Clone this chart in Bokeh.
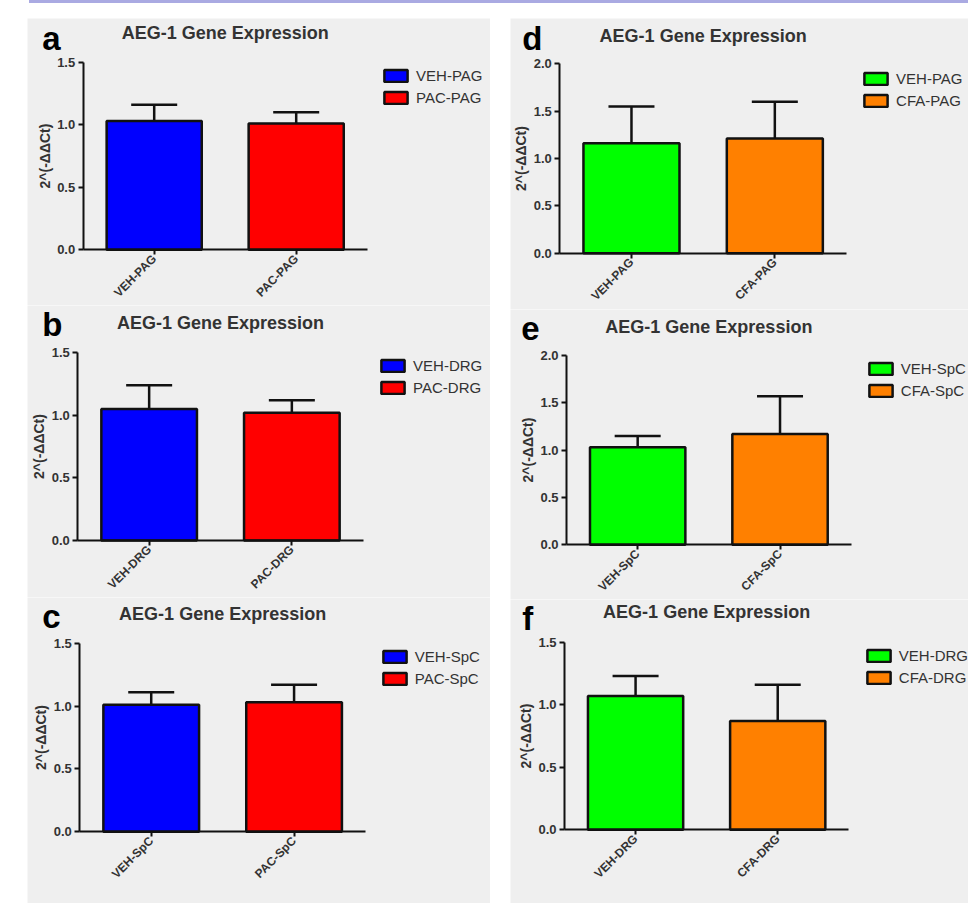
import numpy as np
from bokeh.plotting import figure
from bokeh.models import (ColumnDataSource, Range1d, FixedTicker, Div,
                          NumeralTickFormatter, Whisker, TeeHead, Legend, LegendItem, Label)
from bokeh.layouts import row, column
from bokeh.embed import file_html
from bokeh.resources import INLINE

# ---------------- data ----------------
title_text = "AEG-1 Gene Expression"
y_label = "2^(-ΔΔCt)"

cats_a = ["VEH-PAG", "PAC-PAG"]
mean_a = [1.03, 1.01]
sem_a = [0.13, 0.09]

cats_b = ["VEH-DRG", "PAC-DRG"]
mean_b = [1.05, 1.02]
sem_b = [0.19, 0.10]

cats_c = ["VEH-SpC", "PAC-SpC"]
mean_c = [1.01, 1.03]
sem_c = [0.10, 0.14]

cats_d = ["VEH-PAG", "CFA-PAG"]
mean_d = [1.16, 1.21]
sem_d = [0.39, 0.39]

cats_e = ["VEH-SpC", "CFA-SpC"]
mean_e = [1.03, 1.17]
sem_e = [0.12, 0.40]

cats_f = ["VEH-DRG", "CFA-DRG"]
mean_f = [1.07, 0.87]
sem_f = [0.16, 0.29]

ticks_15 = [0.0, 0.5, 1.0, 1.5]
ticks_20 = [0.0, 0.5, 1.0, 1.5, 2.0]

colors_pac = ["#0000FF", "#FF0000"]
colors_cfa = ["#00FF00", "#FF8000"]

# ---------------- styling / layout (page pixels) ----------------
FONT = "Liberation Sans"
BG = "#efefef"
TXT = "#333333"
INK = "#111111"
BAND = "#aaaae2"
LETTER_SIZE = 33

# x0,y0,w,h: figure box; L,R,T,B: plot area edges; leg: legend box left / first row centre;
# let: panel letter left / baseline; ttl: title centre y
PANELS = {
    "a": dict(x0=27, y0=18, w=463, h=287, L=82.7, R=366.7, T=61.7, B=249.3,
              leg=(384, 74.5), let=(41.7, 50), ttl=32),
    "b": dict(x0=27, y0=305, w=463, h=292, L=77.3, R=362.7, T=352.3, B=540,
              leg=(381, 364.8), let=(41.7, 336), ttl=322.7),
    "c": dict(x0=27, y0=597, w=463, h=306, L=79.3, R=365, T=642.7, B=831.3,
              leg=(382.7, 655.7), let=(41.7, 627.5), ttl=613.3),
    "d": dict(x0=510, y0=18, w=458, h=291, L=559.3, R=846, T=63.3, B=252.7,
              leg=(864, 77), let=(521.7, 50), ttl=35),
    "e": dict(x0=510, y0=309, w=458, h=290, L=566, R=850.7, T=355, B=544.3,
              leg=(868.7, 367.8), let=(520.7, 339.5), ttl=326),
    "f": dict(x0=510, y0=599, w=458, h=304, L=564, R=848.3, T=641.7, B=829.3,
              leg=(866.7, 654.8), let=(521.7, 629.5), ttl=611.7),
}

GLYPH_W, GLYPH_H = 29, 15
LABEL_H, LEG_SPACING = 17, 5


def make_panel(letter, cats, means, sems, colors, ymax, ticks):
    g = PANELS[letter]
    w, h = g["w"], g["h"]
    L, R = g["L"] - g["x0"], g["R"] - g["x0"]
    T, B = g["T"] - g["y0"], g["B"] - g["y0"]
    n = len(cats)
    kx = (R - L) / n
    ky = (B - T) / ymax
    x_range = Range1d(-L / kx, n + (w - R) / kx)
    y_range = Range1d(-(h - B) / ky, ymax + T / ky)

    xs = [i + 0.5 for i in range(n)]
    src = ColumnDataSource(dict(
        x=xs, top=means,
        upper=[m + s for m, s in zip(means, sems)],
        color=colors))

    p = figure(x_range=x_range, y_range=y_range, width=w, height=h,
               min_border=0, title=None,
               output_backend="svg", toolbar_location=None, tools="",
               background_fill_color=BG, border_fill_color=BG,
               outline_line_color=None)
    p.grid.visible = False

    xa = p.xaxis[0]
    ya = p.yaxis[0]
    for ax in (xa, ya):
        ax.axis_line_color = INK
        ax.axis_line_width = 2
        ax.major_tick_line_color = INK
        ax.major_tick_line_width = 2
        ax.major_tick_in = 0
        ax.minor_tick_line_color = None
        ax.major_label_text_font = FONT
        ax.major_label_text_font_style = "bold"
        ax.major_label_text_color = TXT
        ax.fixed_location = 0

    xa.bounds = (0, n)
    xa.ticker = FixedTicker(ticks=xs, minor_ticks=[])
    xa.major_label_overrides = {x: c for x, c in zip(xs, cats)}
    xa.major_tick_out = 5
    xa.major_label_orientation = np.pi / 4
    xa.major_label_text_font_size = "12px"
    xa.major_label_standoff = 2

    ya.bounds = (0, ymax)
    ya.ticker = FixedTicker(ticks=ticks, minor_ticks=[])
    ya.formatter = NumeralTickFormatter(format="0.0")
    ya.major_tick_out = 5
    ya.major_label_standoff = 3
    ya.major_label_text_font_size = "13px"
    ya.axis_label = y_label
    ya.axis_label_text_font = FONT
    ya.axis_label_text_font_size = "14px"
    ya.axis_label_text_font_style = "bold"
    ya.axis_label_text_color = TXT
    ya.axis_label_standoff = 1

    r = p.vbar(x="x", top="top", width=0.67, source=src,
               fill_color="color", line_color=INK, line_width=2.5)

    p.add_layout(Whisker(source=src, base="x", lower="top", upper="upper",
                         dimension="height", line_color=INK, line_width=2.5,
                         upper_head=TeeHead(size=46, line_color=INK, line_width=2.5),
                         lower_head=None))

    # legend (frame == whole figure, so screen offsets are figure offsets)
    bx = g["leg"][0] - g["x0"]
    rc = g["leg"][1] - g["y0"]
    leg_top = rc - GLYPH_H / 2
    leg_h = 2 * LABEL_H + LEG_SPACING
    items = [LegendItem(label=c, renderers=[r], index=i) for i, c in enumerate(cats)]
    p.add_layout(Legend(items=items,
                        location=(bx - 0.1 * GLYPH_W, h - (leg_top + leg_h)),
                        padding=0, margin=0, spacing=LEG_SPACING,
                        glyph_width=GLYPH_W, glyph_height=GLYPH_H,
                        label_height=LABEL_H, label_standoff=6,
                        label_text_font=FONT, label_text_font_size="15px",
                        label_text_color=TXT, border_line_color=None,
                        background_fill_alpha=0))

    # title
    p.add_layout(Label(x=(L + R) / 2, y=h - (g["ttl"] - g["y0"]),
                       x_units="screen", y_units="screen", text=title_text,
                       text_align="center", text_baseline="middle",
                       text_font=FONT, text_font_size="18px",
                       text_font_style="bold", text_color=TXT))
    # panel letter (baseline converted to em-middle)
    let_mid = g["let"][1] - 0.35 * LETTER_SIZE
    p.add_layout(Label(x=g["let"][0] - g["x0"], y=h - (let_mid - g["y0"]),
                       x_units="screen", y_units="screen", text=letter,
                       text_align="left", text_baseline="middle",
                       text_font=FONT, text_font_size=f"{LETTER_SIZE}px",
                       text_font_style="bold", text_color="black"))
    return p


pa = make_panel("a", cats_a, mean_a, sem_a, colors_pac, 1.5, ticks_15)
pb = make_panel("b", cats_b, mean_b, sem_b, colors_pac, 1.5, ticks_15)
pc = make_panel("c", cats_c, mean_c, sem_c, colors_pac, 1.5, ticks_15)
pd = make_panel("d", cats_d, mean_d, sem_d, colors_cfa, 2.0, ticks_20)
pe = make_panel("e", cats_e, mean_e, sem_e, colors_cfa, 2.0, ticks_20)
pf = make_panel("f", cats_f, mean_f, sem_f, colors_cfa, 1.5, ticks_15)

band = Div(text="", width=939, height=3, margin=(0, 0, 0, 29),
           styles={"background-color": BAND})

grid = row(column(pa, pb, pc, spacing=0),
           column(pd, pe, pf, spacing=0),
           spacing=20, margin=(15, 0, 0, 27))

layout = column(band, grid, spacing=0, margin=0)

open("out.html", "w").write(file_html(layout, INLINE, title="AEG-1 Gene Expression"))
